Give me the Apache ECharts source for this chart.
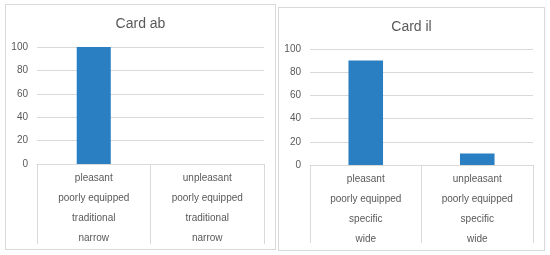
<!DOCTYPE html>
<html><head><meta charset="utf-8">
<script src="https://cdn.jsdelivr.net/npm/echarts@6/dist/echarts.min.js"></script>
<style>
html,body{margin:0;padding:0;background:#fff;width:550px;height:255px;overflow:hidden;}
.panel{position:absolute;box-sizing:border-box;border:1px solid #d9d9d9;background:#fff;}
</style></head><body>
<div id="c1" class="panel" style="left:5px;top:4px;width:271px;height:246px;"></div>
<div id="c2" class="panel" style="left:278px;top:7px;width:267px;height:244px;"></div>
<script>
const titles = ["Card ab", "Card il"];
const categoriesAB = [
  ["pleasant", "poorly equipped", "traditional", "narrow"],
  ["unpleasant", "poorly equipped", "traditional", "narrow"]
];
const categoriesIL = [
  ["pleasant", "poorly equipped", "specific", "wide"],
  ["unpleasant", "poorly equipped", "specific", "wide"]
];
const valuesAB = [100, 0];
const valuesIL = [90, 10];
const yTicks = [0, 20, 40, 60, 80, 100];

const txt = '#595959', grid = '#d9d9d9', font = '"Liberation Sans", Arial, sans-serif';

function make(id, title, cats, vals, g, tickLen, barW) {
  const ch = echarts.init(document.getElementById(id), null, {renderer: 'canvas'});
  ch.setOption({
    animation: false,
    title: {text: title, left: 'center', top: 12, padding: 0,
      textStyle: {color: txt, fontSize: 14, fontWeight: 'normal', fontFamily: font}},
    grid: g,
    xAxis: {
      type: 'category',
      data: cats.map(c => c.join('\n')),
      axisLine: {show: true, lineStyle: {color: grid}},
      axisTick: {show: true, interval: 0, length: tickLen, lineStyle: {color: grid}},
      axisLabel: {interval: 0, margin: 4, color: txt, fontSize: 10, lineHeight: 20, fontFamily: font}
    },
    yAxis: {
      type: 'value', min: yTicks[0], max: yTicks[yTicks.length - 1], interval: 20,
      axisLine: {show: false}, axisTick: {show: false},
      splitLine: {lineStyle: {color: grid}},
      axisLabel: {color: txt, fontSize: 10, margin: 9, fontFamily: font}
    },
    series: [{type: 'bar', data: vals, barWidth: barW, itemStyle: {color: '#2a7fc2'}}]
  });
}
make('c1', titles[0], categoriesAB, valuesAB, {left: 31, right: 11, top: 42, bottom: 85}, 80, '30%');
make('c2', titles[1], categoriesIL, valuesIL, {left: 31, right: 11, top: 41, bottom: 85}, 78, '31%');
</script>
</body></html>
